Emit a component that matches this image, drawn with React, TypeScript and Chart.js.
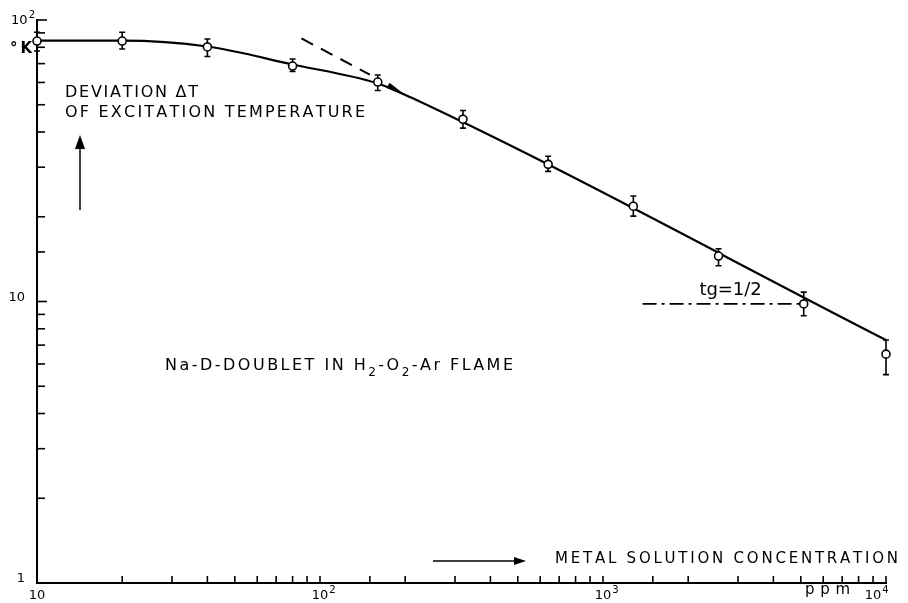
import React, { useEffect, useRef } from 'react';
import { Chart, registerables } from 'chart.js';

Chart.register(...registerables);

// Measured points (concentration in ppm, deviation ΔT in °K)
const concentrations = [10, 20, 40, 80, 160, 320, 640, 1280, 2560, 5120, 10000];
const deltaT = [84.2, 84.2, 80.2, 68.6, 60.2, 44.4, 30.7, 21.8, 14.5, 9.8, 6.5];
const errHigh = [90.5, 90.5, 85.6, 72.7, 63.8, 47.7, 32.8, 23.7, 15.4, 10.8, 7.3];
const errLow = [77.6, 78.9, 74.2, 65.6, 56.2, 41.3, 29.0, 20.1, 13.4, 8.9, 5.5];

// Drawn fit curve
const curveX = [10, 20, 40, 80, 160, 210, 10000];
const curveY = [84.5, 84.5, 80.5, 69.5, 59.5, 53, 7.3];

// Dashed asymptote with arrow
const dashedX = [86, 150];
const dashedY = [86, 64];
const arrowTipX = 203;
const arrowTipY = 53.5;

// Dash-dot reference line "tg=1/2"
const slopeX = [1380, 5000];
const slopeY = [9.8, 9.8];

// Axis tick labels (base, superscript)
const xTickValues = [10, 100, 1000, 10000];
const xTickBase = ['10', '10', '10', '10'];
const xTickSup = ['', '2', '3', '4'];
const yTickValues = [1, 10, 100];
const yTickBase = ['1', '10', '10'];
const yTickSup = ['', '', '2'];

const FONT = '"DejaVu Sans", "Liberation Sans", Arial, sans-serif';

function drawSpaced(ctx: CanvasRenderingContext2D, parts: { t: string; sub?: boolean }[], x: number, y: number, width: number, size: number, weight = 'normal') {
  const items: { c: string; sub: boolean; w: number }[] = [];
  const subSize = Math.round(size * 0.78);
  parts.forEach((p) => {
    ctx.font = `${weight} ${p.sub ? subSize : size}px ${FONT}`;
    Array.from(p.t).forEach((c) => items.push({ c, sub: !!p.sub, w: ctx.measureText(c).width }));
  });
  const total = items.reduce((a, b) => a + b.w, 0);
  const gap = items.length > 1 ? (width - total) / (items.length - 1) : 0;
  let cx = x;
  items.forEach((it) => {
    ctx.font = `${weight} ${it.sub ? subSize : size}px ${FONT}`;
    ctx.fillText(it.c, cx, it.sub ? y + size * 0.38 : y);
    cx += it.w + gap;
  });
}

function drawPower(ctx: CanvasRenderingContext2D, base: string, sup: string, x: number, y: number, align: 'center' | 'right', size: number) {
  ctx.font = `${size}px ${FONT}`;
  const bw = ctx.measureText(base).width;
  ctx.font = `${Math.round(size * 0.8)}px ${FONT}`;
  const sw = sup ? ctx.measureText(sup).width + 1 : 0;
  const left = align === 'center' ? x - bw / 2 : x - bw - sw;
  ctx.textAlign = 'left';
  ctx.font = `${size}px ${FONT}`;
  ctx.fillText(base, left, y);
  if (sup) {
    ctx.font = `${Math.round(size * 0.8)}px ${FONT}`;
    ctx.fillText(sup, left + bw + 1, y - size * 0.45);
  }
}

const annotations = {
  id: 'annotations',
  beforeDatasetsDraw(chart: any) {
    const ctx: CanvasRenderingContext2D = chart.ctx;
    const xs = chart.scales.x;
    const ys = chart.scales.y;
    ctx.save();
    ctx.strokeStyle = '#000';
    ctx.lineWidth = 1.6;
    concentrations.forEach((c, i) => {
      const px = xs.getPixelForValue(c);
      const top = ys.getPixelForValue(errHigh[i]);
      const bot = ys.getPixelForValue(errLow[i]);
      ctx.beginPath();
      ctx.moveTo(px, top);
      ctx.lineTo(px, bot);
      ctx.moveTo(px - 3, top);
      ctx.lineTo(px + 3, top);
      ctx.moveTo(px - 3, bot);
      ctx.lineTo(px + 3, bot);
      ctx.stroke();
    });
    ctx.restore();
  },
  afterDraw(chart: any) {
    const ctx: CanvasRenderingContext2D = chart.ctx;
    const xs = chart.scales.x;
    const ys = chart.scales.y;
    const a = chart.chartArea;
    ctx.save();
    ctx.fillStyle = '#000';
    ctx.strokeStyle = '#000';
    ctx.textBaseline = 'alphabetic';

    // inward tick marks
    ctx.lineWidth = 1.6;
    xs.ticks.forEach((t: any) => {
      const px = xs.getPixelForValue(t.value);
      ctx.beginPath();
      ctx.moveTo(px, a.bottom);
      ctx.lineTo(px, a.bottom - 7);
      ctx.stroke();
    });
    ys.ticks.forEach((t: any) => {
      const py = ys.getPixelForValue(t.value);
      const major = yTickValues.includes(t.value);
      ctx.beginPath();
      ctx.moveTo(a.left, py);
      ctx.lineTo(a.left + (major ? 10 : 8), py);
      ctx.stroke();
    });

    // tick labels
    xTickValues.forEach((v, i) => {
      const px = Math.min(xs.getPixelForValue(v), a.right - 13);
      drawPower(ctx, xTickBase[i], xTickSup[i], px, a.bottom + 16, 'center', 13);
    });
    yTickValues.forEach((v, i) => {
      const py = Math.max(ys.getPixelForValue(v), a.top + 5);
      drawPower(ctx, yTickBase[i], yTickSup[i], a.left - (yTickSup[i] ? 2 : 12), py - 1, 'right', 13);
    });

    // arrowhead on dashed asymptote
    const sx = xs.getPixelForValue(dashedX[1]);
    const sy = ys.getPixelForValue(dashedY[1]);
    const tx = xs.getPixelForValue(arrowTipX);
    const ty = ys.getPixelForValue(arrowTipY);
    const ang = Math.atan2(ty - sy, tx - sx);
    const len = 22;
    const hw = 3;
    const bx = tx - len * Math.cos(ang);
    const by = ty - len * Math.sin(ang);
    ctx.beginPath();
    ctx.moveTo(tx, ty);
    ctx.lineTo(bx - hw * Math.sin(ang), by + hw * Math.cos(ang));
    ctx.lineTo(bx + hw * Math.sin(ang), by - hw * Math.cos(ang));
    ctx.closePath();
    ctx.fill();

    // °K unit label
    ctx.textAlign = 'left';
    drawSpaced(ctx, [{ t: '°K' }], a.left - 27, a.top + 33, 22, 15, 'bold');

    // y-axis title with up arrow
    drawSpaced(ctx, [{ t: 'DEVIATION ΔT' }], a.left + 28, a.top + 77, 133, 16);
    drawSpaced(ctx, [{ t: 'OF EXCITATION TEMPERATURE' }], a.left + 28, a.top + 97, 300, 16);
    ctx.lineWidth = 1.5;
    ctx.beginPath();
    ctx.moveTo(a.left + 43, a.top + 190);
    ctx.lineTo(a.left + 43, a.top + 126);
    ctx.stroke();
    ctx.beginPath();
    ctx.moveTo(a.left + 43, a.top + 115);
    ctx.lineTo(a.left + 38, a.top + 129);
    ctx.lineTo(a.left + 48, a.top + 129);
    ctx.closePath();
    ctx.fill();

    // flame description
    drawSpaced(
      ctx,
      [{ t: 'Na-D-DOUBLET IN H' }, { t: '2', sub: true }, { t: '-O' }, { t: '2', sub: true }, { t: '-Ar FLAME' }],
      a.left + 128, a.top + 350, 348, 16,
    );

    // x-axis title with arrow
    drawSpaced(ctx, [{ t: 'METAL SOLUTION CONCENTRATION' }], a.left + 518, a.bottom - 20, 343, 15);
    ctx.lineWidth = 1.5;
    ctx.beginPath();
    ctx.moveTo(a.left + 396, a.bottom - 22);
    ctx.lineTo(a.left + 480, a.bottom - 22);
    ctx.stroke();
    ctx.beginPath();
    ctx.moveTo(a.left + 489, a.bottom - 22);
    ctx.lineTo(a.left + 477, a.bottom - 26);
    ctx.lineTo(a.left + 477, a.bottom - 18);
    ctx.closePath();
    ctx.fill();

    // ppm unit
    drawSpaced(ctx, [{ t: 'ppm' }], a.left + 768, a.bottom + 11, 45, 15);

    // tg=1/2 label above the dash-dot line
    const lx = xs.getPixelForValue(slopeX[0]);
    const ly = ys.getPixelForValue(slopeY[0]);
    drawSpaced(ctx, [{ t: 'tg=1/2' }], lx + 57, ly - 9, 62, 18);

    ctx.restore();
  },
};

export default function App() {
  const ref = useRef<HTMLCanvasElement>(null);
  useEffect(() => {
    if (!ref.current) return;
    const chart = new Chart(ref.current, {
      type: 'scatter',
      data: {
        datasets: [
          {
            label: 'ΔT',
            data: concentrations.map((c, i) => ({ x: c, y: deltaT[i] })),
            showLine: false,
            pointRadius: 4,
            pointBackgroundColor: '#fff',
            pointBorderColor: '#000',
            pointBorderWidth: 1.6,
            clip: false as any,
          },
          {
            label: 'curve',
            data: curveX.map((c, i) => ({ x: c, y: curveY[i] })),
            showLine: true,
            pointRadius: 0,
            borderColor: '#000',
            borderWidth: 2.2,
            cubicInterpolationMode: 'monotone',
            clip: false as any,
          },
          {
            label: 'asymptote',
            data: dashedX.map((c, i) => ({ x: c, y: dashedY[i] })),
            showLine: true,
            pointRadius: 0,
            borderColor: '#000',
            borderWidth: 2,
            borderDash: [13, 9],
          },
          {
            label: 'slope',
            data: slopeX.map((c, i) => ({ x: c, y: slopeY[i] })),
            showLine: true,
            pointRadius: 0,
            borderColor: '#000',
            borderWidth: 1.8,
            borderDash: [14, 5, 3, 5],
          },
        ],
      },
      options: {
        animation: false,
        responsive: false,
        devicePixelRatio: 1,
        layout: { padding: { top: 20, right: 22, left: 0, bottom: 0 } },
        plugins: { legend: { display: false }, tooltip: { enabled: false } },
        scales: {
          x: {
            type: 'logarithmic',
            min: 10,
            max: 10000,
            grid: { display: true, drawOnChartArea: false, drawTicks: false },
            border: { display: true, color: '#000', width: 2 },
            ticks: { display: false, autoSkip: false },
            afterFit: (s: any) => { s.height = 20; },
          },
          y: {
            type: 'logarithmic',
            min: 1,
            max: 100,
            grid: { display: true, drawOnChartArea: false, drawTicks: false },
            border: { display: true, color: '#000', width: 2 },
            ticks: { display: false, autoSkip: false },
            afterFit: (s: any) => { s.width = 37; },
          },
        },
      },
      plugins: [annotations],
    } as any);
    return () => chart.destroy();
  }, []);
  return (
    <div style={{ position: 'fixed', left: 0, top: 0, width: 908, height: 603, background: '#fff' }}>
      <canvas ref={ref} width={908} height={603} />
    </div>
  );
}
